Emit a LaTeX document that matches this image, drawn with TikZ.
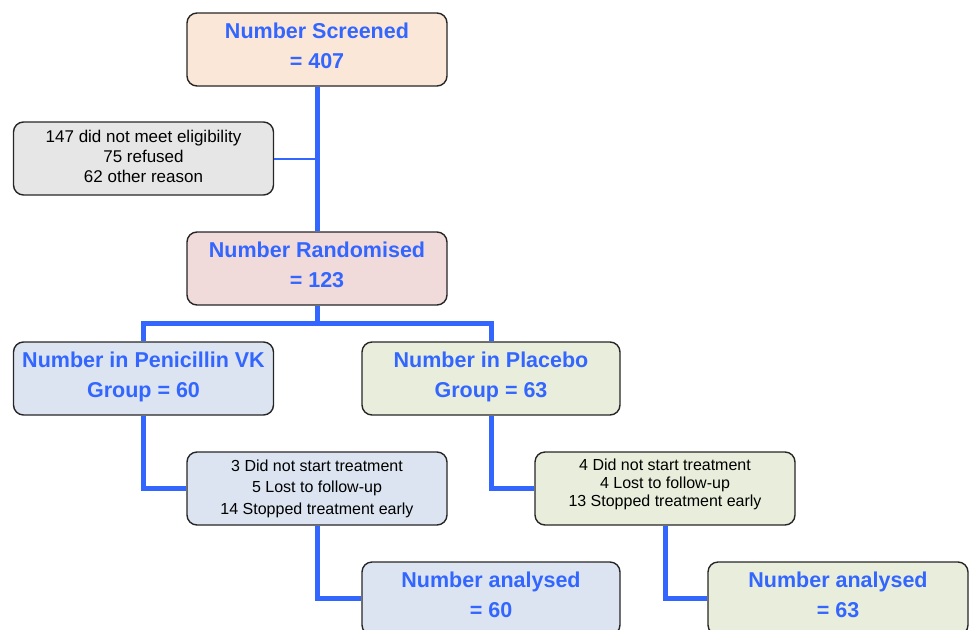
\documentclass[tikz,border=0pt]{standalone}
\usepackage{fontspec}
\setmainfont{Liberation Sans}
\usepackage{tikz}
\usetikzlibrary{positioning, calc}

\definecolor{txtblue}{RGB}{51,102,255}
\definecolor{lineblue}{RGB}{51,102,255}
\definecolor{peach}{RGB}{251,231,216}
\definecolor{rose}{RGB}{240,218,218}
\definecolor{paleblue}{RGB}{219,228,240}
\definecolor{palegreen}{RGB}{232,238,219}
\definecolor{palegray}{RGB}{230,230,230}

\tikzset{
    box/.style={draw=black!85, line width=1.4pt, rounded corners=10pt, minimum width=260pt, minimum height=73pt, inner sep=0pt, align=center},
    titlebox/.style={box, text=txtblue, font=\fontsize{21.5}{30}\selectfont\bfseries, text height=40pt, text depth=1.6pt},
    notebox/.style={box, text=black, font=\fontsize{16}{20}\selectfont},
    link/.style={draw=lineblue, line width=5pt},
    thinlink/.style={draw=lineblue, line width=2pt}
}

\begin{document}
\begin{tikzpicture}[x=1pt, y=-1pt]
    \useasboundingbox (0,0) rectangle (973,629);

    % 筛选与随机化
    \node[titlebox, fill=peach] (scr) at (317,49.5) {Number Screened\\= 407};
    \node[notebox, fill=palegray, font=\fontsize{17}{20}\selectfont, text height=48.4pt, text depth=0pt] (excl) at (143.5,158.5) {147 did not meet eligibility\\75 refused\\62 other reason};
    \node[titlebox, fill=rose] (rand) at (317,268.5) {Number Randomised\\= 123};

    % 两个组
    \node[titlebox, fill=paleblue] (pen) at (143.5,378.5) {Number in Penicillin VK\\Group = 60};
    \node[titlebox, fill=palegreen, minimum width=258pt] (pla) at (491,378.5) {Number in Placebo\\Group = 63};

    % 退出情况
    \node[notebox, fill=paleblue, font=\fontsize{16}{21.5}\selectfont] (penx) at (317,488.5) {3 Did not start treatment\\5 Lost to follow-up\\14 Stopped treatment early};
    \node[notebox, fill=palegreen, font=\fontsize{16}{18}\selectfont, text height=39.7pt, text depth=3.4pt] (plax) at (665,488.5) {4 Did not start treatment\\4 Lost to follow-up\\13 Stopped treatment early};

    % 分析人数 (底部被裁切)
    \node[titlebox, fill=paleblue, minimum width=258pt] (pena) at (491,598.5) {Number analysed\\= 60};
    \node[titlebox, fill=palegreen] (plaa) at (838,598.5) {Number analysed\\= 63};

    % 连接线
    \draw[link] (scr.south) -- (rand.north);
    \draw[thinlink] (excl.east) -- (excl.east -| scr.south);
    \draw[link] (rand.south) -- ++(0,18) coordinate (split) -| (pen.north);
    \draw[link] (split) -| (pla.north);
    \draw[link] (pen.south) |- (penx.west);
    \draw[link] (pla.south) |- (plax.west);
    \draw[link] (penx.south) |- (pena.west);
    \draw[link] (plax.south) |- (plaa.west);
\end{tikzpicture}
\end{document}
